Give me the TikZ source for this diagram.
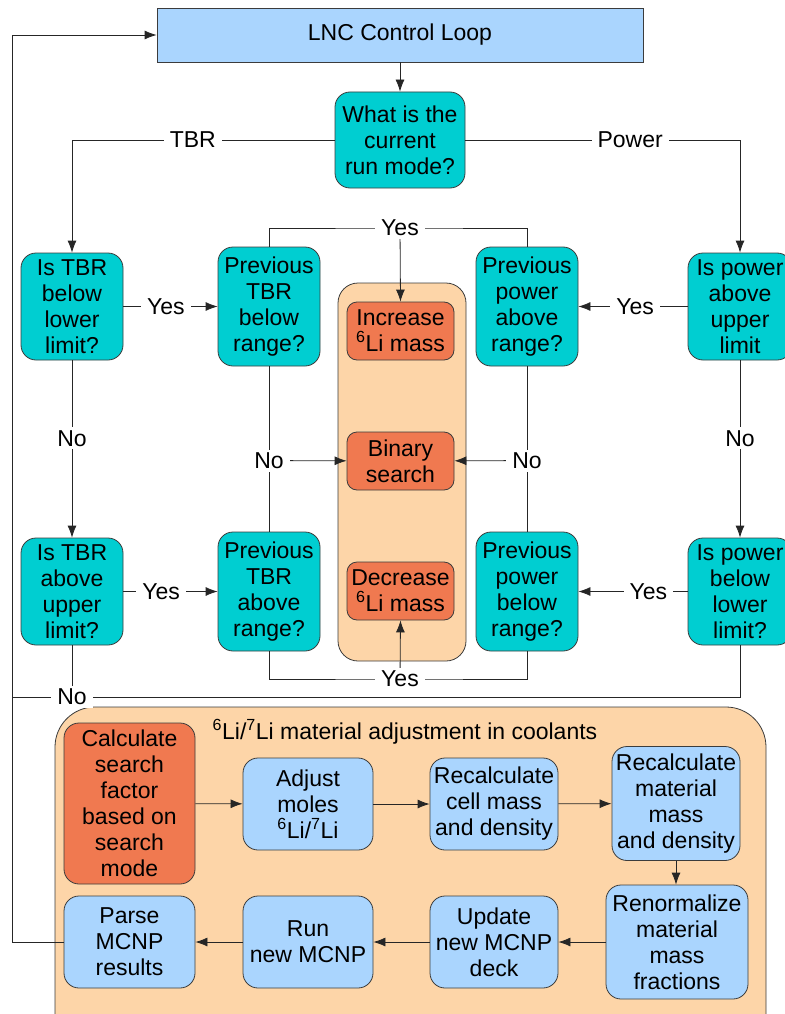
\documentclass[tikz,border=0pt]{standalone}
\usepackage{fontspec}
\setmainfont{Liberation Sans}
\usetikzlibrary{arrows.meta}
\definecolor{lblue}{RGB}{170,213,254}
\definecolor{teal2}{RGB}{0,206,209}
\definecolor{orng}{RGB}{240,121,80}
\definecolor{peach}{RGB}{253,213,168}
\definecolor{bord}{RGB}{60,60,60}
\tikzset{
  txt/.style={font=\fontsize{23}{26}\selectfont, align=center, inner sep=0pt},
  box/.style={txt, draw=bord, line width=0.8pt, rounded corners=15pt},
  tealbox/.style={box, fill=teal2},
  bluebox/.style={box, fill=lblue},
  orbox/.style={box, fill=orng, rounded corners=10pt},
  lbl/.style={txt, fill=white, inner xsep=6pt, inner ysep=3pt},
  conn/.style={draw=black!85, line width=0.8pt},
  arr/.style={conn, -{Latex[length=12pt,width=9pt]}},
}
\begin{document}
\begin{tikzpicture}[x=1pt,y=1pt]
\useasboundingbox (0,0) rectangle (784,-1014);
% containers
\draw[fill=peach, draw=bord, line width=0.8pt, rounded corners=20pt] (338,-283) rectangle (466,-661);
\draw[fill=peach, draw=bord, line width=0.8pt, rounded corners=40pt] (55,-707) rectangle (766,-1070);
\node[txt] (title) at (405,-732) {\textsuperscript{6}Li/\textsuperscript{7}Li material adjustment in coolants};

% top
\node[txt, draw=bord, line width=0.8pt, fill=lblue, minimum width=486pt, minimum height=54pt] (lnc) at (400,-35) {LNC Control Loop};
\node[tealbox, minimum width=130pt, minimum height=96pt] (q) at (400,-140) {What is the\\current\\run mode?};

% TBR side
\node[tealbox, minimum width=102pt, minimum height=107pt] (tbrlow) at (72,-306.5) {Is TBR\\below\\lower\\limit?};
\node[tealbox, minimum width=102pt, minimum height=119pt] (ptbrb) at (269,-306.5) {Previous\\TBR\\below\\range?};
\node[tealbox, minimum width=102pt, minimum height=107pt] (tbra) at (72,-591.5) {Is TBR\\above\\upper\\limit?};
\node[tealbox, minimum width=102pt, minimum height=119pt] (ptbra) at (269,-591.5) {Previous\\TBR\\above\\range?};

% power side
\node[tealbox, minimum width=104pt, minimum height=107pt] (pab) at (740,-306.5) {Is power\\above\\upper\\limit};
\node[tealbox, minimum width=102pt, minimum height=119pt] (ppab) at (527,-306.5) {Previous\\power\\above\\range?};
\node[tealbox, minimum width=104pt, minimum height=107pt] (pbl) at (740,-591.5) {Is power\\below\\lower\\limit?};
\node[tealbox, minimum width=102pt, minimum height=119pt] (ppbb) at (527,-591.5) {Previous\\power\\below\\range?};

% center orange
\node[orbox, minimum width=107pt, minimum height=58pt] (inc) at (400.5,-331) {Increase\\\textsuperscript{6}Li mass};
\node[orbox, minimum width=107pt, minimum height=58pt] (bin) at (400.5,-461) {Binary\\search};
\node[orbox, minimum width=107pt, minimum height=58pt] (dec) at (400.5,-591) {Decrease\\\textsuperscript{6}Li mass};

% bottom boxes
\node[box, fill=orng, minimum width=131pt, minimum height=161pt] (calc) at (129.5,-803.5) {Calculate\\search\\factor\\based on\\search\\mode};
\node[bluebox, minimum width=130pt, minimum height=92pt] (adj) at (308,-804) {Adjust\\moles\\\textsuperscript{6}Li/\textsuperscript{7}Li};
\node[bluebox, minimum width=128pt, minimum height=92pt] (rcell) at (494,-804) {Recalculate\\cell mass\\and density};
\node[bluebox, minimum width=128pt, minimum height=114pt] (rmat) at (676,-803.5) {Recalculate\\material\\mass\\and density};
\node[bluebox, minimum width=142pt, minimum height=114pt] (renorm) at (677,-942) {Renormalize\\material\\mass\\fractions};
\node[bluebox, minimum width=128pt, minimum height=92pt] (upd) at (494,-942) {Update\\new MCNP\\deck};
\node[bluebox, minimum width=130pt, minimum height=92pt] (run) at (308,-942) {Run\\new MCNP};
\node[bluebox, minimum width=131pt, minimum height=92pt] (parse) at (129.5,-942) {Parse\\MCNP\\results};

% coordinates
\coordinate (yt) at (400,-228);
\coordinate (yb) at (400,-679);
\coordinate (lx) at (12,-697);
\coordinate (lb) at (12,-942);

% connectors
\draw[arr] (lnc) -- (q);
\draw[arr] (q.west) -- node[lbl, pos=0.54]{TBR} (q.west -| tbrlow) -- (tbrlow.north);
\draw[arr] (q.east) -- node[lbl, pos=0.60]{Power} (q.east -| pab) -- (pab.north);

\draw[arr] (tbrlow) -- node[lbl, pos=0.45]{Yes} (ptbrb);
\draw[arr] (tbra) -- node[lbl, pos=0.40]{Yes} (ptbra);
\draw[arr] (pab) -- node[lbl, pos=0.48]{Yes} (ppab);
\draw[arr] (pbl) -- node[lbl, pos=0.36]{Yes} (ppbb);

\draw[arr] (tbrlow) -- node[lbl, pos=0.44]{No} (tbra);
\draw[arr] (pab) -- node[lbl, pos=0.44]{No} (pbl);

\draw[conn] (ptbrb) -- node[lbl, pos=0.57] (nol) {No} (ptbra);
\draw[conn] (ppab) -- node[lbl, pos=0.57] (nor) {No} (ppbb);
\draw[arr] (nol) -- (bin);
\draw[arr] (nor) -- (bin);

\draw[conn] (ptbrb.north) |- (yt) -| (ppab.north);
\draw[arr] (yt) -- (inc.north);
\node[lbl] (yesT) at (yt) {Yes};
\draw[conn] (ptbra.south) |- (yb) -| (ppbb.south);
\draw[arr] (yb) -- (dec.south);
\node[lbl] (yesB) at (yb) {Yes};

\draw[conn] (pbl.south) |- (lx);
\draw[conn] (tbra.south) -- (tbra.south |- lx);
\node[lbl] (noB) at (72,-697) {No};

\draw[arr] (calc) -- (adj);
\draw[arr] (adj) -- (rcell);
\draw[arr] (rcell) -- (rmat);
\draw[arr] (rmat) -- (rmat.south |- renorm.north);
\draw[arr] (renorm) -- (upd);
\draw[arr] (upd) -- (run);
\draw[arr] (run) -- (parse);
\draw[arr] (parse.west) -- (lb) |- (lnc.west);
\end{tikzpicture}
\end{document}
